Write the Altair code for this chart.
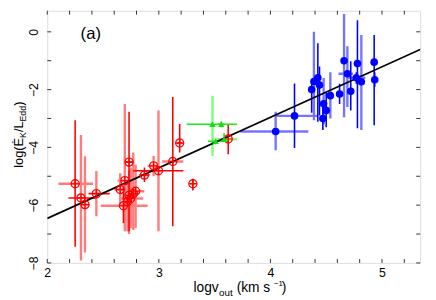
import altair as alt
import pandas as pd

# ---------------- data ----------------
# red open circles
red_x = [2.25, 2.302, 2.338, 2.44, 2.654, 2.695, 2.683, 2.733, 2.733, 2.748, 2.771, 2.792, 2.719, 2.871, 2.953, 2.997, 3.125, 3.187, 3.305, 3.622]
red_y = [-5.26, -5.75, -5.98, -5.60, -5.46, -5.15, -6.02, -4.51, -5.66, -5.77, -5.60, -5.52, -5.88, -4.96, -4.64, -4.81, -4.49, -3.85, -5.26, -3.71]
red_ylo = [-7.44, -7.92, -7.64, -6.38, -6.0, -6.9, -6.62, -6.9, -7.0, -6.8, -6.86, -6.8, -6.9, -5.2, -5.0, -6.9, -6.73, -4.18, -5.49, -4.24]
red_yhi = [-3.06, -3.57, -4.31, -4.82, -4.9, -2.5, -5.32, -2.77, -4.8, -4.7, -4.18, -4.6, -5.2, -4.7, -4.3, -2.72, -2.26, -3.19, -5.09, -3.19]
red_yshade = ["d", "l", "l", "l", "l", "l", "d", "d", "l", "l", "l", "l", "l", "d", "l", "l", "d", "d", "d", "d"]
red_xlo = [2.10, 2.19, 2.30, 2.37, 2.60, 2.63, 2.48, 2.70, 2.68, 2.66, 2.73, 2.74, 2.68, 2.82, 2.90, 2.77, 3.03, 3.16, 3.28, 3.58]
red_xhi = [2.41, 2.44, 2.38, 2.56, 2.71, 2.76, 2.90, 2.77, 2.78, 2.86, 2.81, 2.87, 2.76, 2.92, 3.00, 3.22, 3.22, 3.21, 3.33, 3.66]
red_xshade = ["l", "d", "l", "d", "l", "l", "l", "d", "l", "l", "l", "l", "l", "l", "l", "d", "l", "d", "d", "d"]

# green triangles
grn_x = [3.481, 3.560, 3.51, 3.585]
grn_y = [-3.20, -3.20, -3.79, -3.72]
grn_ylo = [-4.30, -3.30, -3.90, -3.80]
grn_yhi = [-2.21, -3.10, -3.70, -3.50]
grn_yshade = ["l", "d", "d", "d"]
grn_xlo = [3.25, 3.53, 3.44, 3.52]
grn_xhi = [3.70, 3.59, 3.62, 3.70]
grn_xshade = ["d", "d", "d", "l"]

# blue filled circles
blu_x = [4.047, 4.216, 4.37, 4.39, 4.425, 4.44, 4.477, 4.50, 4.47, 4.537, 4.62, 4.66, 4.69, 4.72, 4.78, 4.77, 4.815, 4.93, 4.935]
blu_y = [-3.45, -2.91, -2.00, -1.72, -1.59, -1.84, -2.49, -2.72, -3.00, -2.21, -2.15, -1.00, -1.45, -2.06, -1.10, -1.59, -1.73, -1.05, -1.66]
blu_ylo = [-4.10, -4.02, -2.80, -3.06, -3.11, -2.90, -3.20, -3.30, -3.40, -3.00, -2.50, -2.96, -2.60, -2.72, -3.34, -1.80, -3.40, -3.23, -1.90]
blu_yhi = [-2.77, -1.79, -1.80, 0.00, -0.40, -1.20, -1.60, -2.10, -2.60, -1.40, -1.80, 0.62, -0.50, -1.02, 0.40, -1.40, -0.11, -0.11, -1.40]
blu_yshade = ["l", "d", "d", "l", "d", "d", "l", "d", "d", "l", "d", "l", "l", "d", "d", "d", "l", "d", "d"]
blu_xlo = [3.73, 4.04, 4.37, 4.39, 4.425, 4.44, 4.477, 4.50, 4.47, 4.537, 4.62, 4.66, 4.61, 4.72, 4.78, 4.70, 4.815, 4.93, 4.935]
blu_xhi = [4.34, 4.42, 4.37, 4.39, 4.425, 4.44, 4.477, 4.50, 4.47, 4.537, 4.62, 4.66, 4.74, 4.72, 4.78, 4.85, 4.815, 4.93, 4.935]
blu_xshade = ["l", "l", "d", "d", "d", "d", "d", "d", "d", "d", "d", "d", "l", "d", "d", "l", "d", "d", "d"]

# fitted line end points
fit_x = [2.0, 5.4]
fit_y = [-6.46, -0.51]

# axis ticks
x_ticks = [2.0, 2.2, 2.4, 2.6, 2.8, 3.0, 3.2, 3.4, 3.6, 3.8, 4.0, 4.2, 4.4, 4.6, 4.8, 5.0, 5.2]
y_ticks = [-8, -7, -6, -5, -4, -3, -2, -1, 0]
x_labels = [2, 3, 4, 5]
y_labels = [-8, -6, -4, -2, 0]

# ---------------- styles ----------------
W, H = 380, 257
FONT = "Liberation Sans"
COLORS = {
    "red": {"d": "#ff0000", "l": "#ff7b7b"},
    "grn": {"d": "#11ee11", "l": "#77ff77"},
    "blu": {"d": "#0000ff", "l": "#7474ff"},
}

xs = alt.Scale(domain=[2, 5.342], nice=False, zero=False)
ys = alt.Scale(domain=[-8, 0.73], nice=False, zero=False)


def bars(name, x, y, ylo, yhi, ysh, xlo, xhi, xsh):
    v = pd.DataFrame({"x": x, "lo": ylo, "hi": yhi,
                      "c": [COLORS[name][s] for s in ysh], "s": ysh})
    h = pd.DataFrame({"y": y, "lo": xlo, "hi": xhi,
                      "c": [COLORS[name][s] for s in xsh], "s": xsh})
    out = []
    for shade, w in (("l", 2.4), ("d", 1.6)):
        out.append(alt.Chart(v[v.s == shade]).mark_rule(strokeWidth=w, clip=True).encode(
            x=alt.X("x:Q", scale=xs), y=alt.Y("lo:Q", scale=ys), y2="hi:Q",
            color=alt.Color("c:N", scale=None)))
        out.append(alt.Chart(h[h.s == shade]).mark_rule(strokeWidth=w, clip=True).encode(
            y=alt.Y("y:Q", scale=ys), x=alt.X("lo:Q", scale=xs), x2="hi:Q",
            color=alt.Color("c:N", scale=None)))
    return out


layers = []
layers += bars("red", red_x, red_y, red_ylo, red_yhi, red_yshade, red_xlo, red_xhi, red_xshade)
layers += bars("grn", grn_x, grn_y, grn_ylo, grn_yhi, grn_yshade, grn_xlo, grn_xhi, grn_xshade)
layers += bars("blu", blu_x, blu_y, blu_ylo, blu_yhi, blu_yshade, blu_xlo, blu_xhi, blu_xshade)

fit = alt.Chart(pd.DataFrame({"x": fit_x, "y": fit_y})).mark_line(
    color="black", strokeWidth=1.8, clip=True).encode(
    x=alt.X("x:Q", scale=xs), y=alt.Y("y:Q", scale=ys))
layers.append(fit)

circ_plus = "M-1,0A1,1,0,1,1,1,0A1,1,0,1,1,-1,0M-1,0L1,0M0,-1L0,1"
red_pts = alt.Chart(pd.DataFrame({"x": red_x, "y": red_y})).mark_point(
    shape=circ_plus, filled=False, color="#ff0000", size=70, strokeWidth=1.2, opacity=1).encode(
    x=alt.X("x:Q", scale=xs), y=alt.Y("y:Q", scale=ys))
grn_pts = alt.Chart(pd.DataFrame({"x": grn_x, "y": grn_y})).mark_point(
    shape="triangle-up", filled=True, color="#11dd11", size=40, opacity=1).encode(
    x=alt.X("x:Q", scale=xs), y=alt.Y("y:Q", scale=ys))
blu_pts = alt.Chart(pd.DataFrame({"x": blu_x, "y": blu_y})).mark_point(
    shape="circle", filled=True, color="#0000ff", size=60, opacity=1).encode(
    x=alt.X("x:Q", scale=xs), y=alt.Y("y:Q", scale=ys))
layers += [red_pts, grn_pts, blu_pts]

# axes (labels only) on an invisible layer
axes = alt.Chart(pd.DataFrame({"x": [2.0], "y": [-8.0]})).mark_point(opacity=0).encode(
    x=alt.X("x:Q", scale=xs, axis=alt.Axis(values=x_labels, format="d", ticks=False, domain=False,
                                              grid=False, labelFontSize=12.5, labelFont=FONT,
                                              labelColor="black", labelPadding=4, labelFlush=False,
                                              title=None)),
    y=alt.Y("y:Q", scale=ys, axis=alt.Axis(values=y_labels, format="d", ticks=False, domain=False,
                                              grid=False, labelFontSize=12.5, labelFont=FONT,
                                              labelColor="black", labelAngle=270, labelAlign="center",
                                              labelBaseline="alphabetic", labelPadding=10,
                                              labelFlush=False, title=None)))
layers.insert(0, axes)

# inward ticks on all four sides
xt = pd.DataFrame({"v": x_ticks})
yt = pd.DataFrame({"v": y_ticks})
TC = "#333333"
layers += [
    alt.Chart(xt).mark_rule(color=TC, strokeWidth=1).encode(x=alt.X("v:Q", scale=xs), y=alt.value(H), y2=alt.value(H - 4)),
    alt.Chart(xt).mark_rule(color=TC, strokeWidth=1).encode(x=alt.X("v:Q", scale=xs), y=alt.value(0), y2=alt.value(4)),
    alt.Chart(yt).mark_rule(color=TC, strokeWidth=1).encode(y=alt.Y("v:Q", scale=ys), x=alt.value(0), x2=alt.value(4)),
    alt.Chart(yt).mark_rule(color=TC, strokeWidth=1).encode(y=alt.Y("v:Q", scale=ys), x=alt.value(W), x2=alt.value(W - 4)),
]


def txt(s, x, y, size, angle=0):
    kw = dict(text=s, font=FONT, fontSize=size, color="black", align="left", baseline="alphabetic")
    if angle:
        kw["angle"] = angle
    return alt.Chart(pd.DataFrame({"a": [0]})).mark_text(**kw).encode(x=alt.value(x), y=alt.value(y))


# x title: logv_out (km s^-1)
layers += [
    txt("logv", 149, 287, 14),
    txt("out", 175, 290.5, 10),
    txt("(km s", 193, 287, 14),
    txt("\u22121", 231, 281, 8),
    txt(")", 239, 287, 14),
]
# y title: log(Ė_K/L_Edd), rotated
layers += [
    txt("log(\u0116", -25, 160, 13, 270),
    txt("K", -22, 129.7, 9, 270),
    txt("/L", -25, 123.7, 13, 270),
    txt("Edd", -22, 112.9, 9, 270),
    txt(")", -25, 96.9, 13, 270),
]
# panel label
layers.append(alt.Chart(pd.DataFrame({"a": [0]})).mark_text(
    text="(a)", font=FONT, fontSize=17, color="black", align="left", baseline="middle").encode(
    x=alt.value(34), y=alt.value(24)))

chart = alt.layer(*layers).properties(
    width=W, height=H,
    autosize=alt.AutoSizeParams(type="none"),
    padding={"left": 40, "top": 0, "right": 8, "bottom": 35},
).configure_view(stroke="#888888", strokeWidth=2.5).configure(background="white")

chart.save("out.html", embed_options={"renderer": "svg", "actions": False})
